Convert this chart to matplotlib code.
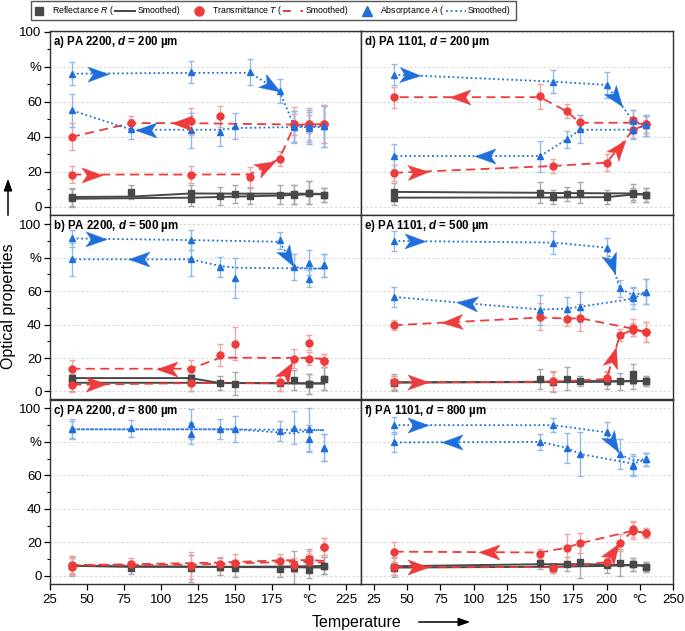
import numpy as np
import matplotlib
matplotlib.use('Agg')
import matplotlib.pyplot as plt
from matplotlib.path import Path
from matplotlib.lines import Line2D
from matplotlib.patches import FancyArrowPatch, Rectangle

plt.rcParams['font.family'] = ['Liberation Sans', 'DejaVu Sans']
plt.rcParams['mathtext.fontset'] = 'custom'
plt.rcParams['mathtext.rm'] = 'Liberation Sans'
plt.rcParams['mathtext.it'] = 'Liberation Sans:italic'
plt.rcParams['mathtext.bf'] = 'Liberation Sans:bold'
plt.rcParams['mathtext.bfit'] = 'Liberation Sans:bold:italic'

# ---------------- data (x = temperature in °C, y = %, e = error, s = smoothed) ----------------
# a) PA 2200, d = 200 um
a_R_up = dict(x=[40, 120, 140, 160, 180, 190, 200, 210], y=[5, 4.7, 6.2, 6.2, 6.8, 7, 8, 7],
              e=[5, 4.5, 5, 4.5, 5.5, 5.5, 6.5, 4], s=[4.6, 5.2, 5.6, 6, 6.4, 6.8, 7.1, 7.2])
a_R_dn = dict(x=[210, 200, 190, 150, 120, 80, 40], y=[7, 8, 7.2, 7.2, 7.6, 8.2, 5.7],
              e=[4, 6.5, 5.5, 5, 5, 4, 5], s=[7.3, 7.5, 7.5, 7.5, 7.6, 5.8, 5.6])
a_T_up = dict(x=[40, 120, 160, 180, 190, 200, 210], y=[18.4, 18.4, 17, 27.5, 47, 47.4, 47.4],
              e=[4.7, 5, 5.7, 4.3, 10, 9, 11], s=[18.4, 18.4, 18.5, 27.5, 46.5, 47, 47.2])
a_T_dn = dict(x=[210, 200, 190, 140, 120, 80, 40], y=[47.4, 47.4, 47, 51.6, 48.8, 47.8, 40],
              e=[11, 5, 6, 6.2, 7.6, 4.3, 7.8], s=[47.2, 47, 47, 47.5, 47.8, 47.8, 40])
a_A_up = dict(x=[40, 120, 160, 180, 190, 200, 210], y=[76, 77, 77, 66, 46, 46, 46],
              e=[6.5, 6.2, 7.5, 7, 8.8, 9, 11.8], s=[76, 76.5, 76.5, 66, 46, 46, 46])
a_A_dn = dict(x=[210, 200, 190, 150, 140, 120, 80, 40], y=[46, 45, 45.5, 46, 42.7, 43.6, 44.2, 55],
              e=[11.8, 9, 9, 7.5, 8, 10, 5.7, 9.7], s=[45.5, 45.5, 45.5, 45, 44, 44, 44, 55])

# b) PA 2200, d = 500 um
b_R_up = dict(x=[40, 120, 180, 190, 200, 210], y=[5.4, 5.4, 5, 7, 4.6, 7.6],
              e=[5, 5, 5, 6, 6, 7], s=[5.2, 5.2, 5, 5, 4.8, 4.8])
b_R_dn = dict(x=[210, 200, 150, 140, 120, 40], y=[7.6, 4.6, 4.6, 5, 8, 8],
              e=[7, 6, 7, 4, 5, 5], s=[4.8, 4.8, 5, 5, 8, 8])
b_T_up = dict(x=[40, 120, 180, 190, 200, 210], y=[3.8, 5, 5.4, 19.6, 29, 18.4],
              e=[4, 5, 5, 5.5, 4.5, 4], s=[4, 5, 5, 19.5, 20, 19.5])
b_T_dn = dict(x=[210, 200, 150, 140, 120, 40], y=[18.4, 19.6, 28.6, 21.6, 13.6, 13.6],
              e=[4, 4, 10, 6.5, 5, 5], s=[19.5, 20, 20.2, 20.2, 13.6, 13.6])
b_A_up = dict(x=[40, 120, 180, 190, 200, 210], y=[91.5, 90.5, 90.4, 74.4, 77, 75.4],
              e=[5, 6, 5, 7.5, 7.5, 7], s=[91.5, 90.5, 89.5, 74.4, 73.5, 73.5])
b_A_dn = dict(x=[210, 200, 150, 140, 120, 40], y=[75.4, 67.4, 68, 74.6, 79, 79],
              e=[7, 5, 12, 6, 10, 10], s=[73.5, 73.5, 74, 75, 79, 79])

# c) PA 2200, d = 800 um
c_R_up = dict(x=[40, 120, 150, 190, 200, 210], y=[6, 4.6, 4.6, 5, 3.6, 6.2],
              e=[5, 8, 5, 10, 5, 5], s=[6, 5.5, 5.3, 5.2, 5.1, 5])
c_R_dn = dict(x=[210, 200, 180, 140, 80, 40], y=[6.2, 10, 4.2, 5.5, 5, 6],
              e=[5, 6, 5, 5, 4, 6], s=[6, 5.8, 5.6, 5.5, 5.5, 6])
c_T_up = dict(x=[40, 120, 150, 190, 200, 210], y=[6.6, 6, 8, 6.6, 8.2, 17.5],
              e=[5, 8, 5, 4, 5, 5], s=[6.3, 6.8, 7.5, 8.5, 8.3, 8])
c_T_dn = dict(x=[210, 200, 180, 140, 80, 40], y=[17.5, 10, 9, 7.2, 7.2, 5.6],
              e=[5, 5, 4, 4, 3.5, 5], s=[9, 9.5, 9.3, 8, 7, 6.5])
c_A_up = dict(x=[40, 120, 150, 190, 200, 210], y=[87.5, 90.5, 87.7, 88.5, 87.5, 76.5],
              e=[6, 9, 8, 10, 13, 8], s=[87.5, 87.5, 87.5, 85, 87, 87])
c_A_dn = dict(x=[210, 200, 180, 140, 120, 80, 40], y=[76.5, 82, 86.7, 87.5, 85, 88, 87.5],
              e=[8, 8, 6, 6, 6, 5, 5], s=[87, 87.2, 87.3, 87.5, 87.5, 87.5, 87.5])

# d) PA 1101, d = 200 um
d_R_up = dict(x=[40, 160, 200, 220, 230], y=[5.1, 5.5, 5.5, 7.5, 7],
              e=[4, 4, 4, 3.5, 4], s=[5.2, 5.3, 5.5, 7, 7])
d_R_dn = dict(x=[230, 220, 180, 170, 150, 40], y=[7, 8, 8, 7.4, 8, 8.5],
              e=[4, 5, 6, 4, 6, 5], s=[7, 7.6, 7.8, 7.8, 8, 8.5])
d_T_up = dict(x=[40, 160, 200, 220, 230], y=[19.4, 23.3, 25.2, 44, 47],
              e=[4.5, 4, 5, 5, 5], s=[19.4, 23.3, 25.2, 44, 47])
d_T_dn = dict(x=[230, 220, 180, 170, 150, 40], y=[47, 49.3, 48.4, 54.5, 63, 62.6],
              e=[5, 6, 4, 4, 7, 6], s=[47, 48, 48, 54.5, 62.6, 62.6])
d_A_up = dict(x=[40, 160, 200, 220, 230], y=[75.5, 71.5, 69.6, 49, 46.5],
              e=[6, 6.5, 7.5, 6, 6], s=[75.5, 71.5, 69.6, 49, 46.5])
d_A_dn = dict(x=[230, 220, 180, 170, 150, 40], y=[46.5, 43.6, 44.6, 38.5, 28.8, 28.8],
              e=[6, 5, 8, 5, 9, 7], s=[46.5, 44, 44, 38.5, 29, 29])

# e) PA 1101, d = 500 um
e_R_up = dict(x=[40, 160, 200, 210, 220, 230], y=[5.4, 5.5, 6.5, 6, 6.6, 6],
              e=[5, 6, 5, 5, 5, 3], s=[5.4, 5.6, 5.8, 6, 6.2, 6.2])
e_R_dn = dict(x=[230, 220, 180, 170, 150, 40], y=[6, 10.4, 6.4, 7.6, 7.6, 5],
              e=[3, 6, 3, 7, 6, 4], s=[6.2, 6.2, 6.2, 6, 5.8, 5.4])
e_T_up = dict(x=[40, 160, 200, 210, 220, 230], y=[5.4, 6, 8, 33.6, 37, 35.4],
              e=[4, 6, 4, 3.5, 4, 6], s=[5.5, 5.8, 7.5, 33.6, 37, 35.4])
e_T_dn = dict(x=[230, 220, 180, 170, 150, 40], y=[35.4, 38.2, 44, 43.4, 44.6, 39.6],
              e=[6, 5, 8, 4, 8, 3], s=[35.4, 37.5, 43.8, 43.6, 44.2, 39.6])
e_A_up = dict(x=[40, 160, 200, 210, 220, 230], y=[90, 89, 86, 61.6, 57.5, 59.6],
              e=[6, 7, 6, 5, 5, 7.5], s=[90, 89, 86, 61.6, 57.5, 59.5])
e_A_dn = dict(x=[230, 220, 180, 170, 150, 40], y=[59.6, 55.6, 50.6, 49.4, 48.6, 56.6],
              e=[7.5, 6, 9, 7, 9, 6], s=[59.5, 55.5, 50.6, 49.5, 49, 56.5])

# f) PA 1101, d = 800 um
f_R_up = dict(x=[40, 160, 200, 210, 220, 230], y=[4.6, 5, 6.6, 8, 7, 5.2],
              e=[4, 3, 5, 8, 4, 3], s=[5, 5.5, 6, 6.3, 6.3, 6])
f_R_dn = dict(x=[230, 220, 180, 170, 150, 40], y=[5.2, 7, 8.5, 7.2, 8, 5.6],
              e=[3, 4, 10, 4, 4, 6], s=[6.3, 6.5, 7, 7, 7, 5.8])
f_T_up = dict(x=[40, 160, 200, 210, 220, 230], y=[5.6, 4.6, 8.2, 19.9, 28, 25.4],
              e=[5, 3, 3, 5, 5, 3], s=[5.6, 5.2, 8.2, 19.9, 27, 25.4])
f_T_dn = dict(x=[230, 220, 180, 170, 150, 40], y=[25.4, 27, 19.5, 16.9, 12.9, 14.5],
              e=[3, 5, 6, 8, 3, 6], s=[25.4, 27, 19.5, 16.9, 14, 14.5])
f_A_up = dict(x=[40, 160, 200, 210, 220, 230], y=[90, 90, 85.7, 72.6, 66.5, 69.6],
              e=[5, 4, 6, 9, 6, 4], s=[90, 90, 85.7, 72.6, 69, 69.6])
f_A_dn = dict(x=[230, 220, 180, 170, 150, 40], y=[69.6, 65.5, 72.8, 76.5, 80, 79.7],
              e=[4, 6, 13, 9, 5, 6], s=[69.6, 67, 72.8, 76.5, 80, 79.7])

# direction arrows: (curve, segment index, fraction along segment)
a_arrows = [(a_A_up, 0, 0.22), (a_A_up, 2, 0.7), (a_A_dn, 5, 0.75),
            (a_T_up, 0, 0.17), (a_T_up, 2, 0.55), (a_T_dn, 4, 0.15)]
b_arrows = [(b_A_up, 0, 0.2), (b_A_up, 2, 0.6), (b_A_dn, 4, 0.44),
            (b_T_up, 0, 0.2), (b_T_up, 2, 0.5), (b_T_dn, 4, 0.2)]
c_arrows = []
d_arrows = [(d_A_up, 0, 0.1), (d_A_up, 2, 0.35), (d_A_dn, 4, 0.38),
            (d_T_up, 0, 0.15), (d_T_up, 2, 0.45), (d_T_dn, 4, 0.55)]
e_arrows = [(e_A_up, 0, 0.13), (e_A_up, 2, 0.4), (e_A_dn, 4, 0.5),
            (e_T_up, 0, 0.15), (e_T_up, 2, 0.5), (e_T_dn, 4, 0.6)]
f_arrows = [(f_A_up, 0, 0.15), (f_A_up, 2, 0.5), (f_A_dn, 4, 0.6),
            (f_T_up, 0, 0.15), (f_T_up, 2, 0.5), (f_T_dn, 4, 0.35)]

titles = ['a) PA 2200, ', 'b) PA 2200, ', 'c) PA 2200, ', 'd) PA 1101, ', 'e) PA 1101, ', 'f) PA 1101, ']
thickness = ['200', '500', '800', '200', '500', '800']
y_ticks = [0, 20, 40, 60, 80, 100]
y_ticklabels = ['0', '20', '40', '60', '%', '100']
x_ticks_left = [25, 50, 75, 100, 125, 150, 175, 200, 225]
x_ticklabels_left = ['25', '50', '75', '100', '125', '150', '175', '°C', '225']
x_ticks_right = [25, 50, 75, 100, 125, 150, 175, 200, 225, 250]
x_ticklabels_right = ['25', '50', '75', '100', '125', '150', '175', '200', '°C', '250']
legend_names = ['Reflectance $R$ (', 'Transmittance $T$ (', 'Absorptance $A$ (']

# ---------------- style ----------------
C_R, C_T, C_A = '#484848', '#ee3b3b', '#1e6fdc'
E_R, E_T, E_A = '#a9a9a9', '#f4a3a3', '#92b8ec'

W, H = 685, 631
fig = plt.figure(figsize=(W / 100, H / 100), dpi=100)


def fx(px):
    return px / W


def fy(py):
    return 1 - py / H


col_left = [(50, 361), (361, 673)]
rows = [(31, 215), (215, 399), (400, 584)]
ylims = [(-4.7, 100.4), (-4.5, 105.5), (-4.8, 105.0)]
xlims = [(25, 235), (15.2, 250)]

panel_curves = [
    (a_R_up, a_R_dn, a_T_up, a_T_dn, a_A_up, a_A_dn),
    (b_R_up, b_R_dn, b_T_up, b_T_dn, b_A_up, b_A_dn),
    (c_R_up, c_R_dn, c_T_up, c_T_dn, c_A_up, c_A_dn),
    (d_R_up, d_R_dn, d_T_up, d_T_dn, d_A_up, d_A_dn),
    (e_R_up, e_R_dn, e_T_up, e_T_dn, e_A_up, e_A_dn),
    (f_R_up, f_R_dn, f_T_up, f_T_dn, f_A_up, f_A_dn),
]
panel_arrows = [a_arrows, b_arrows, c_arrows, d_arrows, e_arrows, f_arrows]


def draw_curve(ax, c, color, ecolor, marker, ls, lw, ms):
    ax.errorbar(c['x'], c['y'], yerr=c['e'], fmt='none', ecolor=ecolor, elinewidth=1.0,
                capsize=2.2, capthick=1.0, zorder=2)
    ax.plot(c['x'], c['s'], ls=ls, color=color, lw=lw, zorder=3)
    ax.plot(c['x'], c['y'], ls='none', marker=marker, color=color, mec=color, ms=ms, zorder=4)


def draw_arrow(ax, c, seg, frac, color):
    x0, x1 = c['x'][seg], c['x'][seg + 1]
    y0, y1 = c['s'][seg], c['s'][seg + 1]
    xm = x0 + frac * (x1 - x0)
    ym = y0 + frac * (y1 - y0)
    p0 = ax.transData.transform((x0, y0))
    p1 = ax.transData.transform((x1, y1))
    ang = np.arctan2(p1[1] - p0[1], p1[0] - p0[0])
    base = np.array([(1.0, 0.0), (-1.0, 0.72), (-0.5, 0.0), (-1.0, -0.72), (1.0, 0.0)])
    R = np.array([[np.cos(ang), -np.sin(ang)], [np.sin(ang), np.cos(ang)]])
    v = base @ R.T
    rescale = np.abs(v).max()
    half_len_pt = 10.5 * 0.72
    path = Path(v, [Path.MOVETO, Path.LINETO, Path.LINETO, Path.LINETO, Path.CLOSEPOLY])
    ax.plot([xm], [ym], ls='none', marker=path, ms=2 * half_len_pt * rescale,
            color=color, mec=color, mew=0.3, zorder=5)


for i in range(6):
    col = i // 3
    row = i % 3
    l, r = col_left[col]
    t, b = rows[row]
    ax = fig.add_axes([fx(l), fy(b), fx(r) - fx(l), (b - t) / H])
    ax.set_xlim(*xlims[col])
    ax.set_ylim(*ylims[row])
    ax.set_yticks(y_ticks)
    ax.yaxis.grid(True, color='#d8d8d8', ls=(0, (2, 2)), lw=0.8)
    ax.set_axisbelow(True)
    for sp in ax.spines.values():
        sp.set_linewidth(1.0)
        sp.set_color('#303030')
    if col == 0:
        ax.set_yticklabels(y_ticklabels, fontsize=9.5)
        ax.set_yticks([10, 30, 50, 70, 90], minor=True)
        ax.tick_params(axis='y', which='major', direction='out', length=4, width=0.9, pad=2)
        ax.tick_params(axis='y', which='minor', direction='out', length=2.5, width=0.8)
        ax.set_xticks(x_ticks_left)
        ax.set_xticklabels(x_ticklabels_left, fontsize=9.5)
    else:
        ax.tick_params(axis='y', which='both', left=False, labelleft=False)
        ax.set_xticks(x_ticks_right)
        ax.set_xticklabels(x_ticklabels_right, fontsize=9.5)
    if row < 2:
        ax.tick_params(axis='x', bottom=False, labelbottom=False)
    else:
        ax.tick_params(axis='x', direction='out', length=4, width=0.9, pad=3)

    R_up, R_dn, T_up, T_dn, A_up, A_dn = panel_curves[i]
    for c in (R_up, R_dn):
        draw_curve(ax, c, C_R, E_R, 's', '-', 1.4, 4.6)
    for c in (T_up, T_dn):
        draw_curve(ax, c, C_T, E_T, 'o', (0, (5, 3)), 1.3, 5.0)
    for c in (A_up, A_dn):
        draw_curve(ax, c, C_A, E_A, '^', (0, (1, 1.5)), 1.3, 5.0)
    for (c, seg, frac) in panel_arrows[i]:
        color = C_A if c in (A_up, A_dn) else C_T
        draw_arrow(ax, c, seg, frac, color)

    ax.text(0.01, 0.985, titles[i] + r'$\mathbfit{d}$' + ' = ' + thickness[i] + ' µm',
            transform=ax.transAxes, ha='left', va='top', fontsize=8.3, fontweight='bold')

# ---------------- legend (manual, single row, measured layout) ----------------
renderer = fig.canvas.get_renderer()
ly = fy(10.5)
fs_leg = 6.3
leg_styles = [(C_R, 's', 6, '-', 1.4), (C_T, 'o', 6.5, (0, (4, 5)), 1.4), (C_A, '^', 6.5, (0, (1, 1.6)), 1.3)]
xc = 39.0
for name, (colr, mk, msz, lsty, lwid) in zip(legend_names, leg_styles):
    fig.add_artist(Line2D([fx(xc)], [ly], marker=mk, color=colr, ms=msz, ls='none',
                          transform=fig.transFigure))
    t1 = fig.text(fx(xc + 13), ly, name, fontsize=fs_leg, va='center', ha='left')
    w1 = t1.get_window_extent(renderer).width
    x_line0 = xc + 13 + w1 + 1
    fig.add_artist(Line2D([fx(x_line0), fx(x_line0 + 20)], [ly, ly], color=colr, lw=lwid, ls=lsty,
                          transform=fig.transFigure))
    t2 = fig.text(fx(x_line0 + 22), ly, 'Smoothed)', fontsize=fs_leg, va='center', ha='left')
    w2 = t2.get_window_extent(renderer).width
    xend = x_line0 + 22 + w2
    xc = xend + 19
fig.add_artist(Rectangle((fx(31), fy(19.5)), fx(xend + 5) - fx(31), 18.5 / H, transform=fig.transFigure,
                         fill=False, edgecolor='#555555', lw=1.0))

# ---------------- axis labels with arrows ----------------
fig.text(fx(9), fy(306), 'Optical properties', rotation=90, ha='center', va='center', fontsize=11.5)
fig.add_artist(FancyArrowPatch((fx(8), fy(218)), (fx(8), fy(176)), transform=fig.transFigure,
                               arrowstyle='-|>,head_length=0.7,head_width=0.25', mutation_scale=10,
                               lw=1.1, color='black'))
fig.text(fx(356), fy(622), 'Temperature', ha='center', va='center', fontsize=11.5)
fig.add_artist(FancyArrowPatch((fx(416), fy(622)), (fx(473), fy(622)), transform=fig.transFigure,
                               arrowstyle='-|>,head_length=0.7,head_width=0.25', mutation_scale=10,
                               lw=1.1, color='black'))

fig.savefig('out.png', dpi=100)
